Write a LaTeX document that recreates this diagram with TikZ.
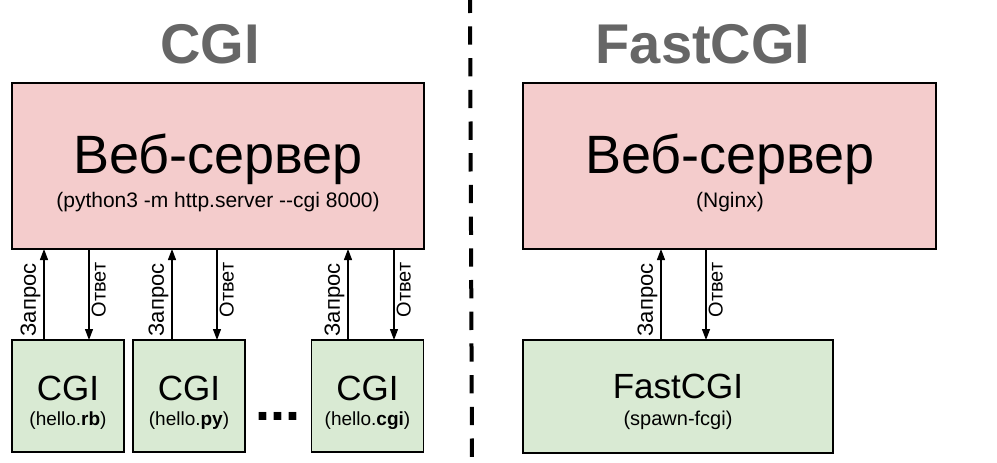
\documentclass[tikz,border=0pt]{standalone}
\usepackage{fontspec}
\setmainfont{Liberation Sans}
\usepackage{xcolor}
\definecolor{rosa}{RGB}{244,204,204}
\definecolor{verdeClaro}{RGB}{217,234,211}
\definecolor{grisTitulo}{RGB}{102,102,102}
\usepackage{tikz}
\usetikzlibrary{arrows.meta,positioning}
\tikzstyle{box}   =[rectangle, draw, line width=1.5pt,
                    inner sep=0pt, outer sep=0pt]
\tikzstyle{server}=[box, fill=rosa, minimum width=412pt,
                    minimum height=166pt]
\tikzstyle{worker}=[box, fill=verdeClaro, minimum width=112pt,
                    minimum height=112pt]
\tikzstyle{flow}  =[-{Triangle[length=11pt,width=8pt]}, line width=1.3pt]
\tikzstyle{heading}=[anchor=base, text=grisTitulo,
                    font=\fontsize{56}{56}\selectfont\bfseries]
\tikzstyle{bigtext}=[anchor=base, font=\fontsize{54}{54}\selectfont]
\tikzstyle{midtext}=[anchor=base, font=\fontsize{35}{35}\selectfont]
\tikzstyle{subtext}=[anchor=base, font=\fontsize{21}{21}\selectfont]
\tikzstyle{smalltext}=[anchor=base, font=\fontsize{19}{19}\selectfont]
\tikzstyle{request}=[pos=0.44, rotate=90, anchor=south, inner sep=3pt,
                    font=\fontsize{22}{22}\selectfont]
\tikzstyle{response}=[pos=0.45, rotate=90, anchor=north, inner sep=2pt,
                    font=\fontsize{20}{20}\selectfont]

\begin{document}
\begin{tikzpicture}[x=1pt,y=-1pt]
    \useasboundingbox (0,0) rectangle (997,463);

    % separator
    \draw [line width=4pt, dash pattern=on 18.3pt off 13.4pt, dash phase=5.3pt]
        (470,0) -- (472,463);

    \begin{scope}
        \draw (210,63) node (cgiTitle) [heading] {CGI};
        \draw (218,166) node (srv) [server] {};
        \draw (218,173) node (srvName) [bigtext] {Веб-сервер};
        \draw (218,207) node (srvCmd) [subtext] {(python3 -m http.server -{}-cgi 8000)};

        \foreach \w/\cx/\f in {cgi1/68/rb, cgi2/189/py, cgi3/367.5/cgi} {
            \draw (\cx,396) node (\w) [worker] {};
            \draw (\cx,400) node (\w txt) [midtext] {CGI};
            \draw (\cx,425) node (\w file) [smalltext] {(hello.\textbf{\f})};
        }
        \draw (278,420) node (dots) [anchor=base,
            font=\fontsize{54}{54}\selectfont\bfseries] {...};

        \foreach \w/\u/\d in {cgi1/44/89, cgi2/172/217, cgi3/348/394} {
            \draw [flow] (\w.north -| \u,0) -- (srv.south -| \u,0)
                node [request] {Запрос};
            \draw [flow] (srv.south -| \d,0) -- (\w.north -| \d,0)
                node [response] {Ответ};
        }
    \end{scope}

    \begin{scope}[xshift=511pt]
        \draw (192,63) node (fcgiTitle) [heading] {FastCGI};
        \draw (218.5,166) node (nginx) [server, minimum width=413pt] {};
        \draw (219,173) node (nginxName) [bigtext] {Веб-сервер};
        \draw (219,207) node (nginxCmd) [subtext] {(Nginx)};

        \draw (167,396.5) node (fcgi) [worker, minimum width=310pt, minimum height=113pt] {};
        \draw (167,398) node (fcgiTxt) [midtext] {FastCGI};
        \draw (167,425) node (fcgiCmd) [subtext, font=\fontsize{20}{20}\selectfont] {(spawn-fcgi)};

        \draw [flow] (fcgi.north -| 150,0) -- (nginx.south -| 150,0)
            node [request] {Запрос};
        \draw [flow] (nginx.south -| 195,0) -- (fcgi.north -| 195,0)
            node [response] {Ответ};
    \end{scope}
\end{tikzpicture}
\end{document}
